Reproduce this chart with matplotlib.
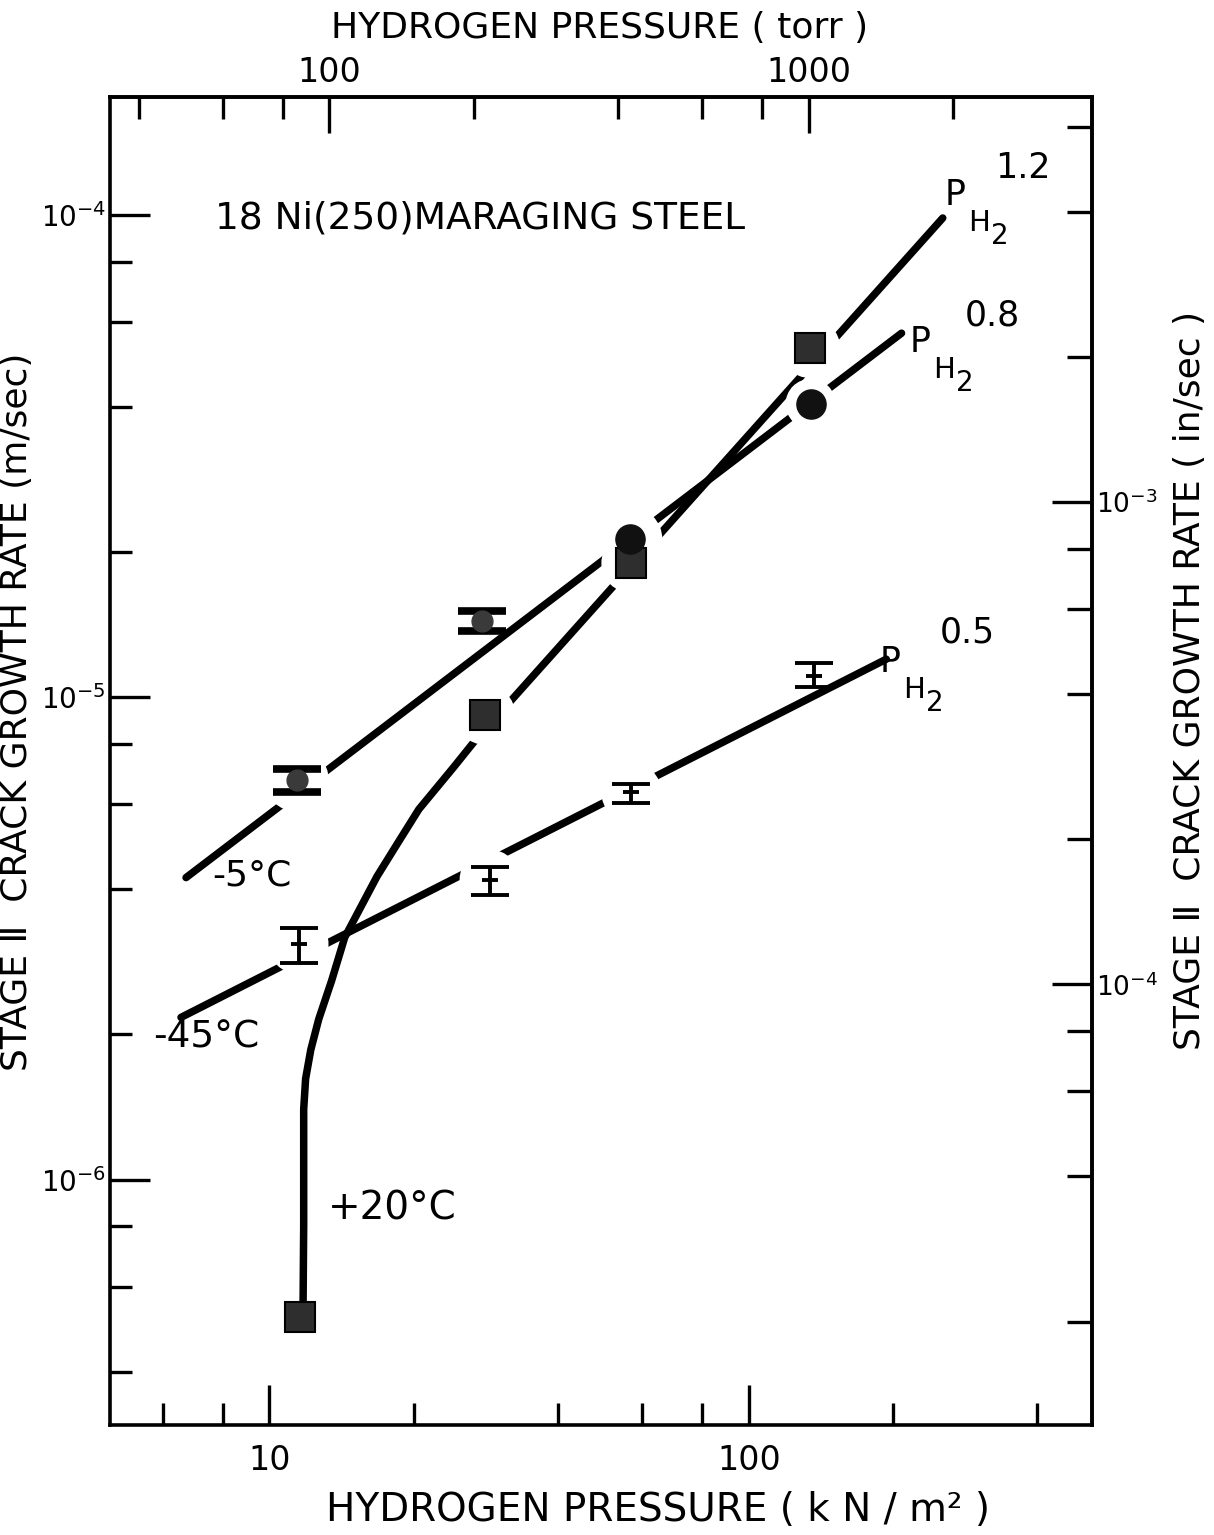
import numpy as np
import matplotlib
matplotlib.use("Agg")
import matplotlib.pyplot as plt
from matplotlib.ticker import FixedLocator, FixedFormatter, NullFormatter

plt.rcParams['font.family'] = ['DejaVu Sans']
plt.rcParams['mathtext.fontset'] = 'dejavusans'

# Stage II crack growth rate of 18Ni(250) maraging steel vs. hydrogen pressure
# pressure in kN/m^2, rate in m/s

# +20 °C (filled squares)
p_20 = [11.6, 28.2, 56.9, 134.3]
v_20 = [5.2e-7, 9.2e-6, 1.9e-5, 5.3e-5]

# -5 °C (filled circles, scatter bands on the two lowest pressures)
p_m5 = [11.4, 27.8, 56.6, 134.6]
v_m5 = [6.75e-6, 1.44e-5, 2.13e-5, 4.06e-5]
v_m5_lo = [6.38e-6, 1.37e-5, np.nan, np.nan]
v_m5_hi = [7.10e-6, 1.51e-5, np.nan, np.nan]

# -45 °C (scatter bands only)
p_m45 = [11.5, 28.8, 56.9, 136.9]
v_m45 = [3.08e-6, 4.19e-6, 6.35e-6, 1.11e-5]
v_m45_lo = [2.82e-6, 3.90e-6, 6.05e-6, 1.05e-5]
v_m45_hi = [3.32e-6, 4.44e-6, 6.60e-6, 1.18e-5]

# hand-fitted trend lines
trend_m5_p = [6.70, 208.3]
trend_m5_v = [4.23e-6, 5.69e-5]
trend_m45_p = [6.54, 193.6]
trend_m45_v = [2.17e-6, 1.20e-5]
trend_20_p = [11.75, 11.79, 11.79, 11.79, 11.90, 12.20, 12.67, 13.49, 14.36, 16.76,
              18.55, 20.5, 24.3, 26.65, 253.9]
trend_20_v = [5.2e-7, 8.07e-7, 1.14e-6, 1.40e-6, 1.62e-6, 1.86e-6, 2.15e-6, 2.59e-6,
              3.18e-6, 4.25e-6, 5.0e-6, 5.86e-6, 7.19e-6, 8.06e-6, 9.86e-5]

# exponents of the pressure dependence
exponents = ["1.2", "0.8", "0.5"]

# axis ticks
kn_major = [10, 100]
kn_minor = [6, 8, 20, 40, 60, 80, 200, 400]
torr_major = [100, 1000]
torr_minor = [40, 60, 80, 200, 400, 600, 800, 2000]
ms_major = [1e-6, 1e-5, 1e-4]
ms_minor = [4e-7, 6e-7, 8e-7, 2e-6, 4e-6, 6e-6, 8e-6, 2e-5, 4e-5, 6e-5, 8e-5]
ins_major = [1e-4, 1e-3]
ins_minor = [2e-5, 4e-5, 6e-5, 8e-5, 2e-4, 4e-4, 6e-4, 8e-4, 2e-3, 4e-3, 6e-3]

KN_PER_TORR = 0.133322
IN_PER_M = 39.3701

W, H = 1214, 1535
fig = plt.figure(figsize=(W / 100, H / 100), dpi=100)
ax = fig.add_axes([110 / W, 1 - 1425 / H, (1092 - 110) / W, (1425 - 97) / H])
ax.set_xscale('log')
ax.set_yscale('log')
ax.set_xlim(4.65, 520)
ax.set_ylim(3.1e-7, 1.757e-4)

for s in ax.spines.values():
    s.set_linewidth(2.6)

LW = 5.4
ax.plot(trend_m5_p, trend_m5_v, color='black', lw=LW, solid_capstyle='round', zorder=2)
ax.plot(trend_m45_p, trend_m45_v, color='black', lw=LW, solid_capstyle='round', zorder=2)
ax.plot(trend_20_p, trend_20_v, color='black', lw=LW, solid_capstyle='round',
        solid_joinstyle='round', zorder=2)

# white breaks in the lines around the plotted points
def halo(px, py, which, r_px):
    xs = [px[i] for i in which]
    ys = [py[i] for i in which]
    d = 2 * r_px * 72 / 100
    ax.scatter(xs, ys, s=d ** 2, marker='o', color='white', edgecolors='none', zorder=2.5)

halo(p_m5, v_m5, [0, 2], 32)
halo(p_m5, v_m5, [3], 25)
halo(p_20, v_20, [1, 2, 3], 30)
halo(p_m45, v_m45, [0, 1, 2], 30)

# -45 °C scatter bands
m45_err = [np.array(v_m45) - np.array(v_m45_lo), np.array(v_m45_hi) - np.array(v_m45)]
ax.errorbar(p_m45, v_m45, yerr=m45_err, fmt='_', color='black', ms=11, mew=2.8,
            elinewidth=2.8, capsize=14, capthick=3.4, zorder=4)

# -5 °C points
m5_lo = np.array(v_m5_lo)
m5_hi = np.array(v_m5_hi)
vm5 = np.array(v_m5)
pm5 = np.array(p_m5)
has_err = ~np.isnan(m5_lo)
ax.errorbar(pm5[has_err], vm5[has_err],
            yerr=[vm5[has_err] - m5_lo[has_err], m5_hi[has_err] - vm5[has_err]],
            fmt='o', color='black', mfc='#3a3a3a', mec='#3a3a3a', ms=15,
            elinewidth=4, capsize=17, capthick=5.5, zorder=4)
ax.plot(pm5[~has_err], vm5[~has_err], 'o', color='#111111', ms=21, zorder=5)

# +20 °C points
ax.plot(p_20, v_20, 's', mfc='#2e2e2e', mec='black', mew=1.5, ms=21, zorder=4)

# bottom / left scales
ax.xaxis.set_major_locator(FixedLocator(kn_major))
ax.xaxis.set_major_formatter(FixedFormatter([str(v) for v in kn_major]))
ax.xaxis.set_minor_locator(FixedLocator(kn_minor))
ax.xaxis.set_minor_formatter(NullFormatter())
ax.yaxis.set_major_locator(FixedLocator(ms_major))
ax.yaxis.set_major_formatter(FixedFormatter([r'$10^{%d}$' % round(np.log10(v)) for v in ms_major]))
ax.yaxis.set_minor_locator(FixedLocator(ms_minor))
ax.yaxis.set_minor_formatter(NullFormatter())
ax.tick_params(which='both', direction='in', width=2.4, top=False, right=False)
ax.tick_params(axis='x', which='major', length=29, pad=14, labelsize=24)
ax.tick_params(axis='y', which='major', length=29, pad=3, labelsize=20)
ax.tick_params(which='minor', length=16)

# top scale in torr
secx = ax.secondary_xaxis('top', functions=(lambda x: x / KN_PER_TORR,
                                           lambda t: t * KN_PER_TORR))
secx.xaxis.set_major_locator(FixedLocator(torr_major))
secx.xaxis.set_major_formatter(FixedFormatter([str(v) for v in torr_major]))
secx.xaxis.set_minor_locator(FixedLocator(torr_minor))
secx.xaxis.set_minor_formatter(NullFormatter())
secx.tick_params(which='both', direction='in', width=2.4, labelsize=24)
secx.tick_params(which='major', length=26, pad=6)
secx.tick_params(which='minor', length=16)
secx.spines['top'].set_linewidth(2.6)

# right scale in in/sec
secy = ax.secondary_yaxis('right', functions=(lambda v: v * IN_PER_M,
                                             lambda v: v / IN_PER_M))
secy.yaxis.set_major_locator(FixedLocator(ins_major))
secy.yaxis.set_major_formatter(FixedFormatter([r'$10^{%d}$' % round(np.log10(v)) for v in ins_major]))
secy.yaxis.set_minor_locator(FixedLocator(ins_minor))
secy.yaxis.set_minor_formatter(NullFormatter())
secy.tick_params(which='both', direction='in', width=2.4, labelsize=19)
secy.tick_params(which='major', length=29, pad=3)
secy.tick_params(which='minor', length=18)
secy.spines['right'].set_linewidth(2.6)

def ftext(x, y, s, **kw):
    kw.setdefault('fontsize', 26)
    kw.setdefault('va', 'center')
    return fig.text(x / W, 1 - y / H, s, **kw)

# axis titles
ftext(600, 28, 'HYDROGEN PRESSURE ( torr )', ha='center', fontsize=26)
ftext(658, 1510, 'HYDROGEN PRESSURE ( k N / m² )', ha='center', fontsize=28)
ftext(17, 712, 'STAGE Ⅱ  CRACK GROWTH RATE (m/sec)', ha='center', rotation=90, fontsize=26)
ftext(1190, 680, 'STAGE Ⅱ  CRACK GROWTH RATE ( in/sec )', ha='center', rotation=90, fontsize=26)

# annotations
ftext(215, 218, '18 Ni(250)MARAGING STEEL', ha='left', fontsize=27)
ftext(212, 876, '-5°C', ha='left')
ftext(153, 1037, '-45°C', ha='left', fontsize=27)
ftext(328, 1208, '+20°C', ha='left', fontsize=28)

# pressure-exponent labels: P, subscript H, sub-subscript 2, exponent
def ph2(xp, yp, exp_x, exp_y, exp_text):
    ftext(xp, yp, 'P', ha='left', fontsize=25)
    ftext(xp + 23, yp + 28, 'H', ha='left', fontsize=21)
    ftext(xp + 46, yp + 41, '2', ha='left', fontsize=20)
    ftext(exp_x, exp_y, exp_text, ha='left', fontsize=25)

ph2(945, 195, 995, 168, exponents[0])
ph2(910, 342, 965, 316, exponents[1])
ph2(880, 662, 940, 632, exponents[2])

fig.savefig('out.png', dpi=100, facecolor='white')
